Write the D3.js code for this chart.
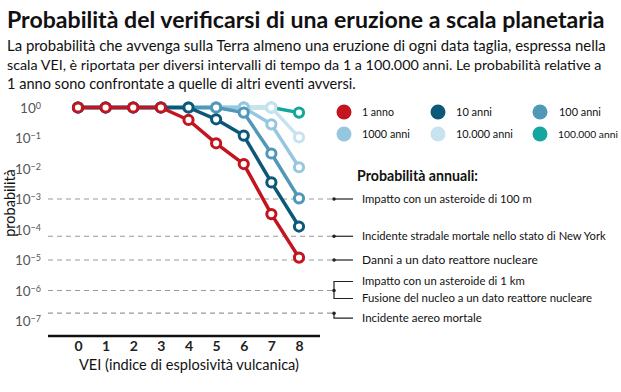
<!DOCTYPE html>
<html><head><meta charset="utf-8">
<script src="https://cdn.jsdelivr.net/npm/d3@7"></script>
<style>body{margin:0;background:#fff}svg{display:block}</style>
</head><body>
<svg id="c" width="621" height="392"></svg>
<script>
const vei = [0,1,2,3,4,5,6,7,8];
const seriesNames = ["1 anno","10 anni","100 anni","1000 anni","10.000 anni","100.000 anni"];
const seriesColors = ["#c3141f","#0c5878","#5198b8","#96c7e0","#c8e2f0","#14a7a0"];
const p1 =      [1,1,1,1,0.39,0.067,0.014,0.00032,0.000012];
const p10 =     [1,1,1,1,1,0.41,0.12,0.0035,0.000125];
const p100 =    [1,1,1,1,1,1,0.68,0.031,0.00105];
const p1000 =   [1,1,1,1,1,1,1,0.28,0.011];
const p10000 =  [1,1,1,1,1,1,1,1,0.105];
const p100000 = [1,1,1,1,1,1,1,1,0.68];
const seriesValues = [p1,p10,p100,p1000,p10000,p100000];
const yTickExps = [0,-1,-2,-3,-4,-5,-6,-7];
const refValues = [1e-3, 6e-5, 1e-5, 1e-6, 1.8e-7];
const refLabels = ["Impatto con un asteroide di 100 m","Incidente stradale mortale nello stato di New York","Danni a un dato reattore nucleare",["Impatto con un asteroide di 1 km","Fusione del nucleo a un dato reattore nucleare"],"Incidente aereo mortale"];
const title = "Probabilità del verificarsi di una eruzione a scala planetaria";
const subtitle = ["La probabilità che avvenga sulla Terra almeno una eruzione di ogni data taglia, espressa nella",
 "scala VEI, è riportata per diversi intervalli di tempo da 1 a 100.000 anni. Le probabilità relative a",
 "1 anno sono confrontate a quelle di altri eventi avversi."];

const svg = d3.select("#c");
const FONT = "Lato, 'Open Sans', sans-serif";

function fitText(sel, target){
  const w = sel.node().getComputedTextLength();
  const fs = parseFloat(sel.attr("font-size"));
  sel.attr("font-size", fs*target/w);
  return sel;
}
function squeeze(sel, target){
  sel.attr("textLength", target).attr("lengthAdjust","spacingAndGlyphs");
  return sel;
}
const t = svg.append("text").attr("x",7).attr("y",28).attr("font-family",FONT)
  .attr("font-weight","bold").attr("font-size",22).attr("fill","#111").text(title);
fitText(t, 598);
const subW = [599, 595, 349];
const subY = [51, 70, 89];
subtitle.forEach((s,i)=>{
  const st = svg.append("text").attr("x",7).attr("y",subY[i]).attr("font-family",FONT)
   .attr("font-size",15).attr("fill","#111").text(s);
  fitText(st, subW[i]);
});

const x = d3.scaleLinear().domain([0,8]).range([78,299]);
const y = d3.scaleLog().domain([1,1e-7]).range([107.5,321]);

// reference dashed lines
const refG = svg.append("g");
const refW = [170, 244, 176, [163, 230], 120];
function refText(yy, s, w){
  const tx = refG.append("text").attr("x",362).attr("y",yy).attr("dy","0.35em").attr("font-family",FONT)
    .attr("font-size",12).attr("fill","#111").text(s);
  fitText(tx, w);
}
refValues.forEach((v,i)=>{
  const yy = y(v);
  refG.append("line").attr("x1",48).attr("x2",333).attr("y1",yy).attr("y2",yy)
    .attr("stroke","#999").attr("stroke-width",1.2).attr("stroke-dasharray","5,4");
  refG.append("circle").attr("cx",334).attr("cy",yy).attr("r",1.8).attr("fill","#222");
  const lab = refLabels[i];
  if (Array.isArray(lab)) {
    refG.append("path").attr("d",`M353,${yy-9}H334V${yy+8}H353`).attr("fill","none").attr("stroke","#222").attr("stroke-width",1.2);
    refText(yy-9, lab[0], refW[i][0]);
    refText(yy+8, lab[1], refW[i][1]);
  } else if (i===4) {
    refG.append("path").attr("d",`M334,${yy}V${yy+5}H353`).attr("fill","none").attr("stroke","#222").attr("stroke-width",1.2);
    refText(yy+5, lab, refW[i]);
  } else {
    refG.append("line").attr("x1",334).attr("x2",353).attr("y1",yy).attr("y2",yy).attr("stroke","#222").attr("stroke-width",1.2);
    refText(yy, lab, refW[i]);
  }
});
const pa = svg.append("text").attr("x",357).attr("y",181).attr("font-family",FONT).attr("font-weight","bold")
  .attr("font-size",15).attr("fill","#111").text("Probabilità annuali:");
squeeze(pa, 121);

// y axis
const yAxis = d3.axisLeft(y).tickValues(yTickExps.map(e=>Math.pow(10,e))).tickSize(0).tickFormat(()=> "");
const yg = svg.append("g").attr("transform","translate(41,0)").call(yAxis);
yg.select(".domain").remove();
yg.selectAll(".tick text").remove();
yg.selectAll(".tick").each(function(d){
  const e = Math.round(Math.log10(d));
  const tx = d3.select(this).append("text").attr("x",0).attr("dy","0.35em").attr("text-anchor","end")
    .attr("font-family",FONT).attr("font-size",13.5).attr("fill","#555");
  tx.append("tspan").text("10");
  tx.append("tspan").attr("dy","-0.45em").attr("font-size",9).text(e===0?"0":"\u2212"+(-e));
});
svg.append("text").attr("transform","translate(15,203) rotate(-90)").attr("text-anchor","middle")
  .attr("font-family",FONT).attr("font-size",14.5).attr("fill","#111").text("probabilità");

// x axis
svg.append("line").attr("x1",48).attr("x2",320).attr("y1",336).attr("y2",336).attr("stroke","#111").attr("stroke-width",2.5);
const xg = svg.append("g").attr("transform","translate(0,337)").call(d3.axisBottom(x).tickValues(vei).tickSize(0).tickFormat(d3.format("d")));
xg.select(".domain").remove();
xg.selectAll(".tick text").attr("y",14).attr("dy","0").attr("font-family",FONT).attr("font-size",14).attr("font-weight","bold").attr("fill","#222");
const xt = svg.append("text").attr("x",189).attr("y",370).attr("text-anchor","middle").attr("font-family",FONT)
  .attr("font-size",15.5).attr("fill","#111").text("VEI (indice di esplosività vulcanica)");
squeeze(xt, 220);

// series, bottom first
const line = d3.line().x((d,i)=>x(vei[i])).y(d=>y(d));
for (let s = seriesValues.length-1; s>=0; s--) {
  const g = svg.append("g");
  g.append("path").datum(seriesValues[s]).attr("d",line).attr("fill","none")
    .attr("stroke",seriesColors[s]).attr("stroke-width",3.5).attr("stroke-linejoin","round");
  g.selectAll("circle").data(seriesValues[s]).join("circle")
    .attr("cx",(d,i)=>x(vei[i])).attr("cy",d=>y(d)).attr("r",4.6)
    .attr("fill","#fff").attr("stroke",seriesColors[s]).attr("stroke-width",3);
}

// legend
const legX = [344,438,540], legY = [112,134], legTX = [362,456,558];
const legW = [32, 36, 42, 48, 57, 60];
seriesNames.forEach((n,i)=>{
  const r = Math.floor(i/3), c = i%3;
  svg.append("circle").attr("cx",legX[c]).attr("cy",legY[r]).attr("r",7.5).attr("fill",seriesColors[i]);
  const lt = svg.append("text").attr("x",legTX[c] + (i===2?1:0)).attr("y",legY[r]).attr("dy","0.35em").attr("font-family",FONT)
    .attr("font-size",13).attr("fill","#111").text(n);
  fitText(lt, legW[i]);
});
</script>
</body></html>
